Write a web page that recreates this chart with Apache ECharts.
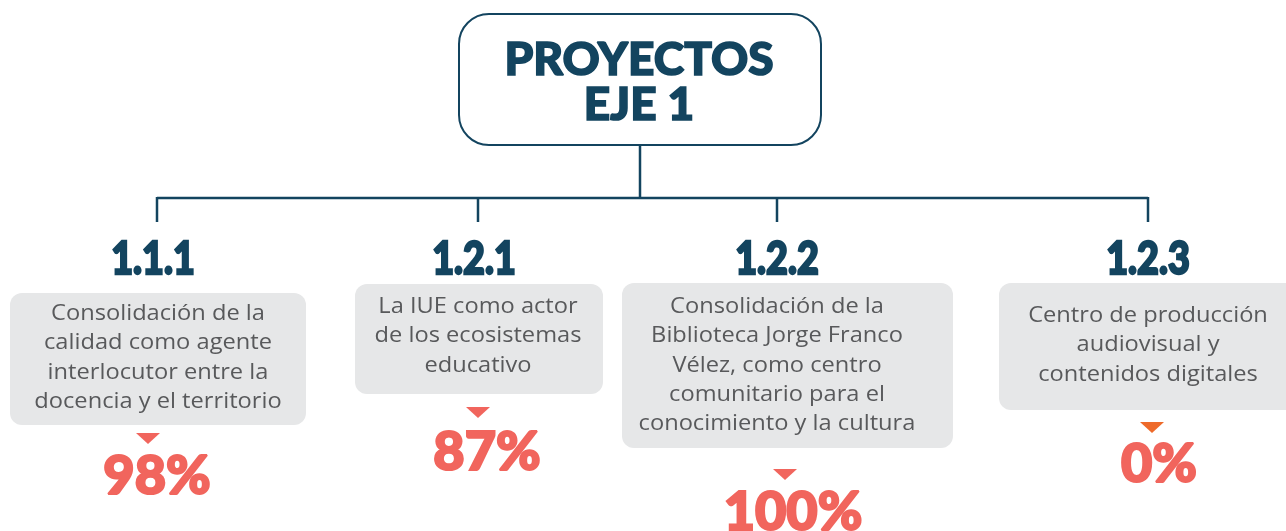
<!DOCTYPE html>
<html><head><meta charset="utf-8">
<script src="https://cdn.jsdelivr.net/npm/echarts@6/dist/echarts.min.js"></script>
<style>html,body{margin:0;padding:0;background:#fff}#c{width:1286px;height:531px}</style>
</head><body><div id="c"></div>
<script>
const titleLines = ['PROYECTOS', 'EJE 1'];
const codes = ['1.1.1', '1.2.1', '1.2.2', '1.2.3'];
const descriptions = [
  ['Consolidación de la', 'calidad como agente', 'interlocutor entre la', 'docencia y el territorio'],
  ['La IUE como actor', 'de los ecosistemas', 'educativo'],
  ['Consolidación de la', 'Biblioteca Jorge Franco', 'Vélez, como centro', 'comunitario para el', 'conocimiento y la cultura'],
  ['Centro de producción', 'audiovisual y', 'contenidos digitales']
];
const percentages = [98, 87, 100, 0];

// layout (positions only)
const dark = '#13445f', grey = '#e6e7e8', txt = '#58595b', red = '#f1655d', orange = '#ee6a2a';
const colX = [157, 478, 777, 1148];
const codeX = [153, 474, 777, 1148];
const boxes = [
  {x: 10, y: 293, w: 296, h: 132},
  {x: 355, y: 284, w: 248, h: 110},
  {x: 622, y: 283, w: 331, h: 165},
  {x: 999, y: 283, w: 300, h: 127}
];
const textCX = [158, 478, 777, 1148];
const textTop = [314, 307, 307, 316];
const triX = [148, 478, 785, 1152];
const triY = [433, 407, 469, 422];
const triCol = [red, red, red, orange];
const pctX = [157, 487, 793, 1159];
const pctY = [477, 453, 513, 465];

const g = [];
// top box
g.push({type:'rect', shape:{x:459, y:14, width:362, height:131, r:30}, style:{fill:'#fff', stroke:dark, lineWidth:2}});
titleLines.forEach((t,i)=>g.push({type:'text', x:639, y:60+i*45, style:{text:t, fill:dark, stroke:dark, lineWidth:1.6, fontFamily:'Lato', fontWeight:900, fontSize:46, align:'center', verticalAlign:'middle'}}));
// connectors
g.push({type:'line', shape:{x1:640, y1:145, x2:640, y2:198}, style:{stroke:dark, lineWidth:2.5}});
g.push({type:'line', shape:{x1:colX[0], y1:198, x2:colX[3], y2:198}, style:{stroke:dark, lineWidth:2.5}});
colX.forEach(x=>g.push({type:'line', shape:{x1:x, y1:197, x2:x, y2:222}, style:{stroke:dark, lineWidth:2.5}}));
codes.forEach((c,i)=>{
  g.push({type:'text', x:codeX[i], y:259, scaleX:0.82, style:{text:c, fill:dark, stroke:dark, lineWidth:2.4, fontFamily:'Lato', fontWeight:900, fontSize:46, align:'center', verticalAlign:'middle'}});
  const b = boxes[i];
  g.push({type:'rect', shape:{x:b.x, y:b.y, width:b.w, height:b.h, r:12}, style:{fill:grey}});
  descriptions[i].forEach((l,j)=>g.push({type:'text', x:textCX[i], y:textTop[i]+j*29.3, scaleX:1.1, style:{text:l, fill:txt, fontFamily:'Open Sans', fontSize:21.5, align:'center', verticalAlign:'middle'}}));
  const tx = triX[i], ty = triY[i];
  g.push({type:'polygon', shape:{points:[[tx-12,ty],[tx+12,ty],[tx,ty+11]]}, style:{fill:triCol[i]}});
  g.push({type:'text', x:pctX[i], y:pctY[i], style:{text:percentages[i]+'%', fill:red, stroke:red, lineWidth:2.2, fontFamily:'Lato', fontWeight:900, fontSize:54, align:'center', verticalAlign:'middle'}});
});

const chart = echarts.init(document.getElementById('c'));
chart.setOption({animation:false, graphic:g});
</script></body></html>
